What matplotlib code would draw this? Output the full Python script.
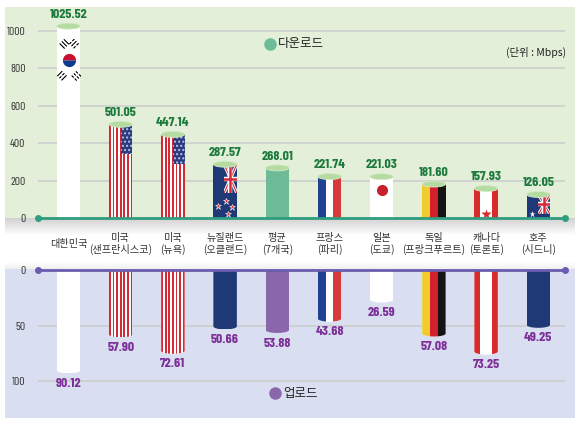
import numpy as np
import matplotlib
matplotlib.use("Agg")
import matplotlib.pyplot as plt
from matplotlib.patches import Rectangle, Ellipse, PathPatch
from matplotlib.path import Path
from matplotlib.lines import Line2D

# ---------------- data ----------------
categories = ["대한민국", "미국\n(샌프란시스코)", "미국\n(뉴욕)", "뉴질랜드\n(오클랜드)", "평균\n(7개국)",
              "프랑스\n(파리)", "일본\n(도쿄)", "독일\n(프랑크푸르트)", "캐나다\n(토론토)", "호주\n(시드니)"]
download = [1025.52, 501.05, 447.14, 287.57, 268.01, 221.74, 221.03, 181.60, 157.93, 126.05]
upload = [90.12, 57.90, 72.61, 50.66, 53.88, 43.68, 26.59, 57.08, 73.25, 49.25]
top_ticks = [0, 200, 400, 600, 800, 1000]
bottom_ticks = [0, 50, 100]

# ---------------- styling ----------------
W, H = 580, 421
KR = ["Noto Sans CJK KR", "DejaVu Sans"]
NUM = ["Barlow Condensed", "DejaVu Sans"]
GREEN_BG = "#e3efd9"
BLUE_BG = "#d9dff0"
TEAL = "#2f9d7e"
PURPLE_LINE = "#6b5cb0"
VAL_GREEN = "#1d7a3d"
VAL_PURPLE = "#7c2f98"
NAVY = "#1f3876"
RED = "#d5283a"
US_RED = "#d42a35"

fig = plt.figure(figsize=(W / 100, H / 100), dpi=100)
fig.patch.set_facecolor("white")


def fx(x):
    return x / W


def fy(y):
    return 1 - y / H


# backgrounds
fig.patches.append(Rectangle((fx(5), fy(218)), fx(570), 211 / H, transform=fig.transFigure,
                             facecolor=GREEN_BG, edgecolor="none", zorder=-10))
fig.patches.append(Rectangle((fx(5), fy(418)), fx(570), 150 / H, transform=fig.transFigure,
                             facecolor=BLUE_BG, edgecolor="none", zorder=-10))
# middle band gradient
band = fig.add_axes([fx(5), fy(269), fx(570), 51 / H], zorder=-5)
grad = np.concatenate([np.linspace(0.82, 1.0, 18), np.ones(25), np.linspace(1.0, 0.94, 8)])
band.imshow(np.tile(grad[:, None], (1, 10)), cmap="gray", vmin=0, vmax=1, aspect="auto",
            extent=[0, 1, 0, 1])
band.set_axis_off()

x = np.arange(len(categories))
bw = 0.45
xl = ((38 - 68.5) / 52.2, (565 - 68.5) / 52.2)

ax = fig.add_axes([fx(38), fy(218), fx(527), 211 / H])
ax2 = fig.add_axes([fx(38), fy(418), fx(527), 148 / H])
for a in (ax, ax2):
    a.set_facecolor("none")
    for s in a.spines.values():
        s.set_visible(False)
    a.set_xlim(*xl)
    a.set_xticks([])
    a.tick_params(axis="y", length=0, pad=9, labelsize=8.5, labelcolor="#333333")
    a.grid(axis="y", color="#c9cccb", lw=1.1)
    a.set_axisbelow(True)
ax.set_ylim(0, 1128)
ax.set_yticks(top_ticks)
ax2.set_ylim(133, 0)
ax2.set_yticks(bottom_ticks)
for a in (ax, ax2):
    for t in a.get_yticklabels():
        t.set_family(NUM)

top_px = 1128 / 211.0   # data units per pixel (top)
bot_px = 133 / 148.0    # data units per pixel (bottom)
ux = 1 / 52.2           # data units per pixel horizontally

top_base = ["white", "white", "white", NAVY, "#6dbb97", "white", "white", "white", "white", NAVY]
bot_base = ["white", "white", "white", NAVY, "#8a67aa", "white", "white", "white", "white", NAVY]
stripes = {
    5: ["#20418f", "white", "#d63a3b"],
    7: ["#efcb2d", "#d4202d", "#141414"],
    8: ["#d92b2b", "white", "white", "#d92b2b"],
}


def stripe_bars(a, c, h, clip=None):
    # US style vertical stripes
    n = 13
    sw = bw / n
    for k in range(n):
        if k % 2 == 0:
            b = a.bar(c - bw / 2 + sw * (k + 0.5), h, width=sw, color=US_RED, lw=0, zorder=3)
            if clip is not None:
                b[0].set_clip_path(clip)


def tri_bars(a, c, h, cols, clip=None):
    n = len(cols)
    sw = bw / n
    for k, col in enumerate(cols):
        b = a.bar(c - bw / 2 + sw * (k + 0.5), h, width=sw * 1.02, color=col, lw=0, zorder=3)
        if clip is not None:
            b[0].set_clip_path(clip)


def union_jack(a, x0, x1, y0, y1):
    clip = Rectangle((x0, y0), x1 - x0, y1 - y0, transform=a.transData)
    r = Rectangle((x0, y0), x1 - x0, y1 - y0, facecolor=NAVY, lw=0, zorder=4)
    a.add_patch(r)
    items = []
    items += a.plot([x0, x1], [y0, y1], color="white", lw=2.2, zorder=5)
    items += a.plot([x0, x1], [y1, y0], color="white", lw=2.2, zorder=5)
    items += a.plot([x0, x1], [y0, y1], color=RED, lw=0.8, zorder=5)
    items += a.plot([x0, x1], [y1, y0], color=RED, lw=0.8, zorder=5)
    xm, ym = (x0 + x1) / 2, (y0 + y1) / 2
    items += a.plot([xm, xm], [y0, y1], color="white", lw=3.2, zorder=6)
    items += a.plot([x0, x1], [ym, ym], color="white", lw=3.2, zorder=6)
    items += a.plot([xm, xm], [y0, y1], color=RED, lw=1.8, zorder=6)
    items += a.plot([x0, x1], [ym, ym], color=RED, lw=1.8, zorder=6)
    for it in items:
        it.set_clip_path(clip)


# ---------------- top (download) ----------------
cap_h = 6 * top_px
for i, (c, v) in enumerate(zip(x, download)):
    ax.bar(c, v, width=bw, color=top_base[i], lw=0, zorder=2)
    if i in (1, 2):
        stripe_bars(ax, c, v)
        ax.add_patch(Rectangle((c, v - 30 * top_px), bw / 2, 30 * top_px, facecolor="#2a3b80",
                               edgecolor="#b9c2e0", hatch="....", lw=0, zorder=4))
    if i in stripes:
        tri_bars(ax, c, v, stripes[i])
    if i == 0:
        yc = v - 34 * top_px
        ax.plot(c, yc, marker="o", ms=9.5, mfc="#c8102e", mfcalt="#0d3a8c", fillstyle="top",
                mec="none", zorder=5)
        for dx, dy, g, rot in [(-1, 1, "☰", -45), (1, 1, "☵", 45), (-1, -1, "☲", 45), (1, -1, "☷", -45)]:
            ax.text(c + dx * 6 * ux, yc + dy * 16 * top_px, g, fontsize=7, ha="center", va="center",
                    rotation=rot, color="black", zorder=5, family="DejaVu Sans")
    if i == 3:
        union_jack(ax, c - 0.02, c + bw / 2, v - 29 * top_px, v)
        for ox, oy in [(-7, 12), (1, 17), (7, 11), (3, 4)]:
            ax.plot(c + ox * ux, oy * top_px, marker="*", ms=4.5, mfc="#d8303c", mec="white",
                    mew=0.4, zorder=5)
    if i == 6:
        ax.plot(c, 150, marker="o", ms=8, mfc="#c8202c", mec="none", zorder=5)
    if i == 8:
        ax.plot(c, 22, marker="*", ms=7, mfc="#d92b2b", mec="none", zorder=5)
    if i == 9:
        union_jack(ax, c, c + bw / 2, v - 20 * top_px, v)
        ax.plot(c - 6 * ux, 20, marker="*", ms=5, mfc="white", mec="none", zorder=5)
    ax.add_patch(Ellipse((c, v), bw, cap_h, facecolor="#b5dba1", edgecolor="#d4ebc6", lw=0.6, zorder=7))
    ax.annotate(f"{v:.2f}", (c, v), xytext=(0, 4.5), textcoords="offset points", ha="center", va="bottom",
                fontsize=10, fontweight="bold", color=VAL_GREEN, family=NUM)

# ---------------- bottom (upload) ----------------
ell_h = 6 * bot_px
t = np.linspace(0, np.pi, 40)
for i, (c, v) in enumerate(zip(x, upload)):
    verts = [(c - bw / 2, 0), (c + bw / 2, 0)]
    verts += list(zip(c + bw / 2 * np.cos(t), v + ell_h / 2 * np.sin(t)))
    verts += [(c - bw / 2, 0)]
    codes = [Path.MOVETO] + [Path.LINETO] * (len(verts) - 2) + [Path.CLOSEPOLY]
    clip = PathPatch(Path(verts, codes), transform=ax2.transData)
    b = ax2.bar(c, v + ell_h / 2, width=bw, color=bot_base[i], lw=0, zorder=2)
    b[0].set_clip_path(clip)
    if i in (1, 2):
        stripe_bars(ax2, c, v + ell_h / 2, clip)
    if i in stripes:
        tri_bars(ax2, c, v + ell_h / 2, stripes[i], clip)
    ax2.annotate(f"{v:.2f}", (c, v), xytext=(0, -5.5), textcoords="offset points", ha="center", va="top",
                 fontsize=10, fontweight="bold", color=VAL_PURPLE, family=NUM)

# zero lines with end dots
ax.plot(xl, [0, 0], color=TEAL, lw=2, clip_on=False, zorder=8)
ax.plot(xl, [0, 0], "o", color=TEAL, ms=4, clip_on=False, zorder=8)
ax2.plot(xl, [0, 0], color=PURPLE_LINE, lw=2, clip_on=False, zorder=8)
ax2.plot(xl, [0, 0], "o", color=PURPLE_LINE, ms=4, clip_on=False, zorder=8)

# category labels
for c, lab in zip(x, categories):
    xp = 38 + (c - xl[0]) * 52.2
    fig.text(fx(xp), fy(244), lab, ha="center", va="center", fontsize=7.3, color="#333333",
             family=KR, linespacing=1.1)

# legends and unit
fig.add_artist(Line2D([fx(270)], [fy(44)], marker="o", ms=8, color="#6dbb97", transform=fig.transFigure))
fig.text(fx(278), fy(44), "다운로드", ha="left", va="center", fontsize=9, color="#222222", family=KR)
fig.add_artist(Line2D([fx(275)], [fy(393)], marker="o", ms=8, color="#8a67aa", transform=fig.transFigure))
fig.text(fx(283), fy(393), "업로드", ha="left", va="center", fontsize=9, color="#222222", family=KR)
fig.text(fx(566), fy(52), "(단위 : Mbps)", ha="right", va="center", fontsize=7.5, color="#222222", family=KR)

fig.savefig("out.png", dpi=100, facecolor="white")
